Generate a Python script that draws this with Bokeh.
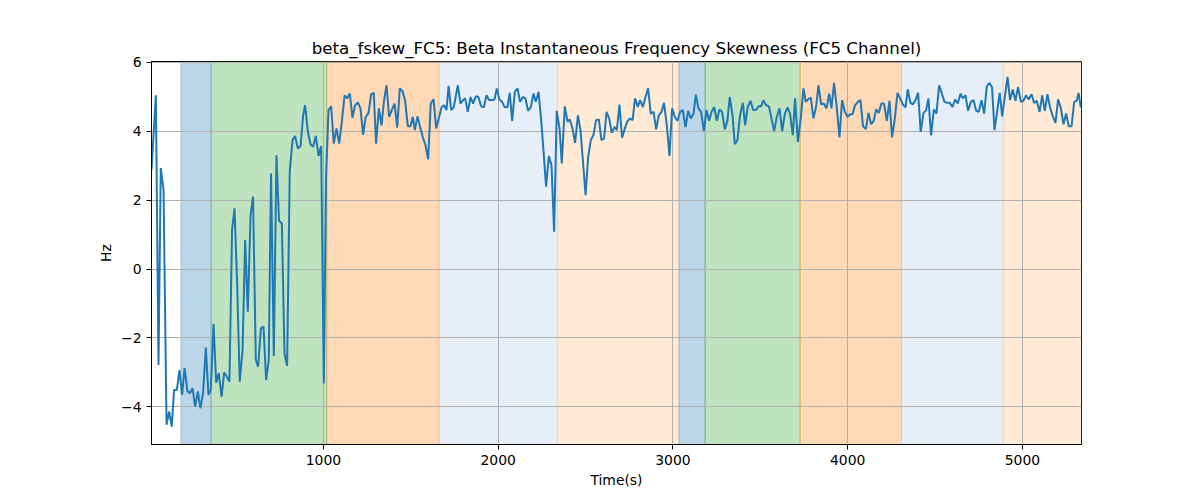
from bokeh.plotting import figure
from bokeh.models import Range1d, FixedTicker
from bokeh.embed import file_html
from bokeh.resources import INLINE

# time stamps (s) and skewness values
times = [16, 41, 56, 69, 85, 102, 117, 132, 145, 161, 176, 191, 205, 222, 237, 251, 266, 281, 296, 311,
         327, 342, 355, 371, 386, 401, 417, 432, 447, 462, 477, 491, 506, 521, 537, 552, 567, 583, 597, 613,
         626, 642, 657, 672, 687, 700, 716, 731, 746, 762, 777, 792, 807, 823, 838, 853, 869, 884, 895, 911,
         926, 941, 956, 972, 987, 1002, 1015, 1029, 1044, 1059, 1075, 1090, 1105, 1121, 1135, 1151, 1166, 1181, 1197, 1212,
         1227, 1242, 1258, 1273, 1288, 1301, 1317, 1332, 1347, 1361, 1376, 1391, 1407, 1422, 1437, 1452, 1467, 1483, 1498, 1511,
         1523, 1538, 1553, 1569, 1584, 1599, 1614, 1630, 1645, 1660, 1676, 1690, 1704, 1716, 1731, 1746, 1769, 1784, 1799, 1811,
         1826, 1842, 1856, 1872, 1887, 1902, 1918, 1933, 1948, 1963, 1979, 1992, 2007, 2022, 2038, 2053, 2066, 2080, 2095, 2111,
         2125, 2141, 2156, 2171, 2187, 2202, 2215, 2231, 2246, 2259, 2274, 2290, 2305, 2320, 2335, 2351, 2364, 2381, 2397, 2410,
         2425, 2440, 2456, 2471, 2486, 2500, 2515, 2530, 2545, 2560, 2576, 2591, 2606, 2620, 2635, 2650, 2666, 2679, 2694, 2709,
         2725, 2738, 2753, 2769, 2783, 2799, 2812, 2828, 2843, 2858, 2873, 2889, 2904, 2919, 2935, 2949, 2965, 2980, 2995, 3011,
         3026, 3041, 3056, 3072, 3087, 3102, 3118, 3131, 3146, 3161, 3177, 3192, 3207, 3221, 3236, 3251, 3266, 3281, 3297, 3312,
         3325, 3341, 3354, 3369, 3384, 3400, 3413, 3428, 3444, 3459, 3474, 3490, 3504, 3518, 3533, 3549, 3564, 3579, 3594, 3610,
         3625, 3640, 3656, 3670, 3686, 3699, 3715, 3732, 3747, 3760, 3773, 3789, 3804, 3819, 3833, 3848, 3863, 3879, 3894, 3907,
         3922, 3938, 3953, 3968, 3984, 3999, 4014, 4028, 4042, 4058, 4073, 4088, 4104, 4119, 4134, 4149, 4163, 4178, 4193, 4208,
         4224, 4239, 4254, 4270, 4285, 4300, 4315, 4331, 4344, 4359, 4374, 4390, 4403, 4418, 4434, 4449, 4462, 4477, 4493, 4508,
         4523, 4539, 4554, 4569, 4584, 4600, 4615, 4630, 4646, 4659, 4674, 4689, 4705, 4720, 4735, 4750, 4766, 4781, 4796, 4812,
         4826, 4840, 4855, 4870, 4884, 4899, 4915, 4929, 4945, 4960, 4975, 4991, 5006, 5021, 5036, 5052, 5067, 5082, 5098, 5113,
         5128, 5143, 5158, 5174, 5189, 5204, 5220, 5235, 5250, 5265, 5281, 5296, 5311, 5321, 5334]

skew = [2.87, 5.04, -2.78, 2.93, 2.29, -4.52, -4.13, -4.57, -3.51, -3.51, -2.93, -3.65, -2.87, -3.55, -3.6, -3.46, -3.99, -3.55, -4.04, -3.6,
        -2.28, -3.65, -3.51, -1.59, -3.3, -3.02, -3.71, -3.0, -3.12, -3.27, 1.13, 1.76, -0.41, -3.27, -2.35, 0.84, -1.24, 1.57, 2.1, -2.64,
        -2.83, -1.72, -1.67, -3.22, -2.64, 2.77, -2.52, 3.3, 1.4, 1.32, -2.46, -2.81, 2.82, 3.74, 3.86, 3.5, 3.57, 4.46, 4.75, 3.98,
        3.62, 3.55, 3.86, 3.28, 3.57, -3.31, 2.68, 4.61, 4.72, 3.64, 4.08, 3.64, 4.27, 5.04, 4.95, 5.09, 4.39, 4.75, 4.83, 4.66,
        3.9, 4.41, 4.53, 5.07, 5.11, 3.64, 4.66, 4.17, 4.9, 5.33, 4.41, 4.61, 4.8, 4.1, 5.24, 5.16, 4.9, 4.14, 4.14, 4.41,
        4.03, 4.43, 4.12, 3.82, 3.59, 3.18, 4.8, 4.92, 4.08, 4.37, 4.69, 4.75, 4.61, 5.31, 4.61, 4.7, 5.33, 4.8, 4.9, 4.95,
        4.56, 4.99, 4.8, 5.01, 4.99, 4.72, 4.69, 5.04, 4.9, 4.9, 4.92, 5.24, 4.92, 4.85, 4.69, 4.7, 5.11, 4.3, 5.14, 5.24,
        4.85, 4.99, 4.95, 4.59, 4.7, 5.09, 4.85, 5.14, 4.32, 3.45, 2.39, 3.28, 3.01, 1.08, 4.59, 4.08, 3.06, 4.72, 4.27, 4.34,
        4.08, 3.66, 4.46, 4.03, 3.06, 2.14, 3.26, 3.74, 3.88, 4.32, 4.34, 3.74, 3.79, 4.56, 4.37, 3.95, 4.12, 4.03, 4.77, 3.81,
        4.08, 4.27, 4.37, 4.32, 4.95, 4.7, 4.9, 4.7, 4.99, 5.24, 4.51, 4.56, 4.05, 4.46, 4.56, 4.82, 4.17, 3.28, 4.66, 4.41,
        4.3, 4.56, 4.61, 4.12, 4.59, 4.37, 4.51, 5.06, 4.66, 4.56, 4.01, 4.61, 4.3, 4.56, 4.7, 4.3, 4.63, 4.56, 4.05, 4.32,
        4.99, 4.46, 3.62, 3.74, 4.46, 4.82, 4.17, 4.7, 4.88, 4.61, 4.61, 4.72, 4.72, 4.9, 4.75, 4.72, 4.37, 4.0, 4.41, 4.66,
        4.0, 4.49, 4.69, 4.51, 3.88, 4.95, 3.69, 4.4, 5.24, 4.85, 4.92, 4.97, 4.37, 4.7, 5.33, 4.78, 4.8, 4.66, 5.09, 4.66,
        5.4, 4.66, 3.82, 4.9, 4.56, 4.41, 4.49, 4.49, 4.75, 4.85, 4.9, 4.14, 4.06, 4.53, 4.2, 4.3, 4.63, 4.53, 4.8, 4.8,
        4.3, 4.88, 3.82, 4.37, 5.11, 4.95, 4.78, 4.69, 5.21, 4.82, 4.78, 4.92, 5.11, 3.98, 4.53, 4.61, 4.95, 3.88, 4.63, 4.51,
        5.33, 5.09, 4.85, 4.82, 4.82, 4.7, 4.92, 4.8, 5.09, 4.95, 5.04, 4.59, 4.85, 4.9, 4.59, 4.56, 4.9, 4.51, 5.3, 5.4,
        5.27, 4.03, 4.56, 5.11, 4.43, 4.99, 5.57, 4.9, 5.21, 4.88, 5.28, 4.85, 4.88, 5.04, 4.92, 5.07, 4.82, 4.88, 4.56, 5.04,
        4.59, 5.07, 4.69, 4.43, 4.24, 4.92, 4.66, 4.2, 4.51, 4.14, 4.14, 4.85, 4.88, 5.11, 4.69]

# shaded segments
band_start = [184, 357, 1019, 1662, 2339, 3035, 3184, 3728, 4308, 4889]
band_end = [357, 1019, 1662, 2339, 3035, 3184, 3728, 4308, 4889, 5345]
band_colors = ["#1f77b4", "#2ca02c", "#ff7f0e", "#aec7e8", "#ffbb78",
               "#1f77b4", "#2ca02c", "#ff7f0e", "#aec7e8", "#ffbb78"]

y_ticks = [-4, -2, 0, 2, 4, 6]
x_ticks = [1000, 2000, 3000, 4000, 5000]
y_min, y_max = -5.09, 6.02

p = figure(width=1184, height=490, output_backend="svg", toolbar_location=None,
           x_range=Range1d(16, 5338), y_range=Range1d(y_min, y_max),
           title="beta_fskew_FC5: Beta Instantaneous Frequency Skewness (FC5 Channel)",
           x_axis_label="Time(s)", y_axis_label="Hz",
           min_border_left=151, min_border_right=103, min_border_top=61, min_border_bottom=45)

# bands sit below the grid, line above it
p.quad(left=band_start, right=band_end, bottom=y_min, top=y_max,
       fill_color=band_colors, fill_alpha=0.3, line_color=band_colors, line_alpha=0.3,
       level="image")
p.line(times, skew, line_color="#1f77b4", line_width=2)

p.title.align = "center"
p.title.text_font = "DejaVu Sans"
p.title.text_font_size = "16.7px"
p.title.text_font_style = "normal"
p.title.text_color = "black"
p.title.standoff = 8

p.outline_line_color = "black"
p.outline_line_alpha = 1
p.outline_line_width = 1

p.xaxis.ticker = FixedTicker(ticks=x_ticks)
p.yaxis.ticker = FixedTicker(ticks=y_ticks)
p.yaxis.major_label_overrides = {t: str(t).replace("-", "\u2212") for t in y_ticks}
for ax in (p.xaxis, p.yaxis):
    ax.major_label_text_font = "DejaVu Sans"
    ax.major_label_text_font_size = "13.9px"
    ax.major_label_text_color = "black"
    ax.axis_label_text_font = "DejaVu Sans"
    ax.axis_label_text_font_size = "13.9px"
    ax.axis_label_text_font_style = "normal"
    ax.axis_label_text_color = "black"
    ax.axis_label_standoff = 4
    ax.major_tick_out = 5
    ax.major_tick_in = 0
    ax.minor_tick_out = 0
    ax.minor_tick_in = 0
    ax.axis_line_color = "black"
    ax.major_tick_line_color = "black"

p.grid.grid_line_color = "#b0b0b0"
p.grid.grid_line_width = 1
p.background_fill_color = "white"

open("out.html", "w").write(file_html(p, INLINE))
